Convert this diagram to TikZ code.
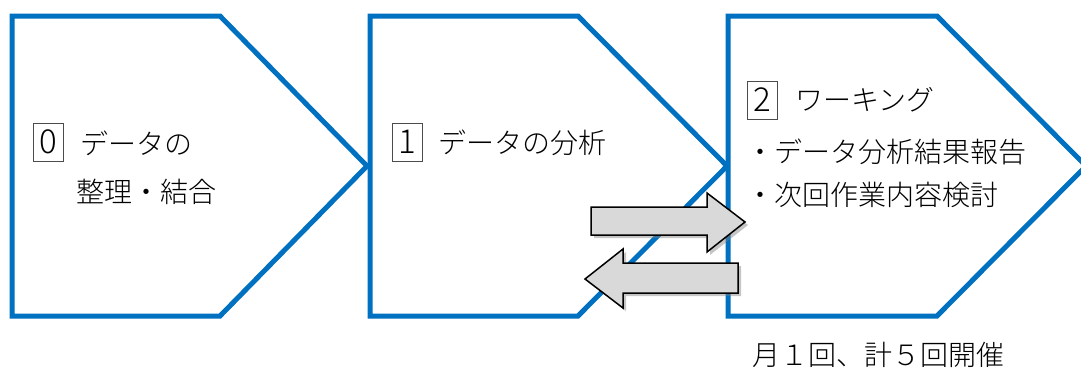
\documentclass[tikz,border=0pt]{standalone}
\usepackage{fontspec}
\setmainfont{Noto Sans CJK JP}[UprightFont = * Light]
\usetikzlibrary{shadows}
\definecolor{blu}{HTML}{0070C0}
\definecolor{arrfill}{HTML}{D9D9D9}
\begin{document}
\begin{tikzpicture}[x=1pt,y=-1pt,
  chev/.style={draw=blu,line width=5pt,fill=white,line join=miter},
  numbox/.style={draw=black!70,line width=0.8pt,minimum width=30pt,minimum height=38pt,inner sep=0pt,font=\fontsize{33}{33}\selectfont},
  jtext/.style={font=\fontsize{28}{32}\selectfont,inner sep=0pt,anchor=west},
  bigarrow/.style={draw=black,line width=1.5pt,fill=arrfill,line join=miter,
    drop shadow={shadow xshift=3pt,shadow yshift=-3pt,opacity=0.45}}]
\useasboundingbox (0,0) rectangle (1081,367);
\fill[white] (0,0) rectangle (1081,367);
% chevrons
\draw[chev] (12,16) -- (220,16) -- (367,166) -- (220,316) -- (12,316) -- cycle;
\draw[chev] (370,16) -- (578,16) -- (727,166) -- (578,316) -- (370,316) -- cycle;
\draw[chev] (728,16) -- (937,16) -- (1086,166) -- (937,316) -- (728,316) -- cycle;
% texts
\node[numbox] (b0) at (48,142) {0};
\node[jtext] (t0a) at (80,143) {データの};
\node[jtext] (t0b) at (76,192) {整理・結合};
\node[numbox] (b1) at (407,142) {1};
\node[jtext] (t1) at (438,143) {データの分析};
\node[numbox] (b2) at (762,100) {2};
\node[jtext] (t2a) at (795,100) {ワーキング};
\node[jtext] (t2b) at (746,152) {・データ分析結果報告};
\node[jtext] (t2c) at (746,195) {・次回作業内容検討};
\node[jtext] (note) at (752,355) {月１回、計５回開催};
% exchange arrows
\draw[bigarrow] (591,207) -- (707,207) -- (707,193) -- (745,222) -- (707,252) -- (707,235) -- (591,235) -- cycle;
\draw[bigarrow] (738,263) -- (623,263) -- (623,249) -- (585,279) -- (623,308) -- (623,293) -- (738,293) -- cycle;
\end{tikzpicture}
\end{document}
